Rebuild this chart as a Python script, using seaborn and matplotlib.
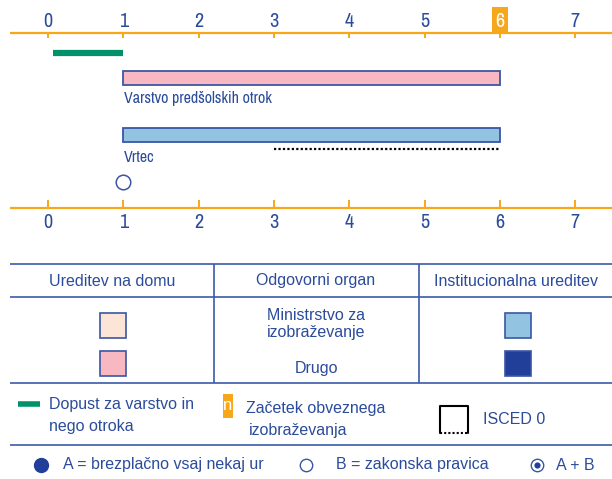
import matplotlib
matplotlib.use('Agg')
import matplotlib.pyplot as plt
import seaborn as sns
from matplotlib.patches import Rectangle

# --- data ---
ages = [0, 1, 2, 3, 4, 5, 6, 7]
compulsory_age = 6
leave_start, leave_end = 0.06, 1.0
row_labels = ['Varstvo predšolskih otrok', 'Vrtec']
row_start = [1, 1]
row_end = [6, 6]
isced_start, isced_end = 3, 6
entitlement_age = [1]

header_labels = ['Ureditev na domu', 'Odgovorni organ', 'Institucionalna ureditev']
organ_labels = ['Ministrstvo za\nizobraževanje', 'Drugo']
legend_items = ['A = brezplačno vsaj nekaj ur', 'B = zakonska pravica', 'A + B']

# --- colours ---
ORANGE = '#F7A71C'
TEXT = '#2B4B9B'
EDGE = '#3A56A5'
LINE = '#3B5BA9'
GREEN = '#00916A'
PINK = '#F7B8C1'
PEACH = '#FCE4D6'
LBLUE = '#92C3E1'
DBLUE = '#213F99'

sns.set_theme(style='white')
plt.rcParams['font.family'] = ['Liberation Sans', 'DejaVu Sans']
NARROW = ['Archivo Narrow', 'Liberation Sans', 'DejaVu Sans']

FS = 11.5

fig = plt.figure(figsize=(6.12, 4.79), dpi=100)

# axes in age units (x) and pixel rows (y)
px0, pxs = 48.0, 75.3
ax = fig.add_axes([0, 0, 1, 1])
ax.set_xlim(-px0 / pxs, (612 - px0) / pxs)
ax.set_ylim(479, 0)
ax.axis('off')

# overlay axes in pixel units for the table and legend
pt = fig.add_axes([0, 0, 1, 1])
pt.set_xlim(0, 612)
pt.set_ylim(479, 0)
pt.axis('off')
pt.patch.set_alpha(0)

x_left = (10 - px0) / pxs
x_right = ax.get_xlim()[1]


def draw_age_axis(y, tick_len, label_y, highlight=None):
    ax.plot([x_left, x_right], [y, y], color=ORANGE, lw=1.6, solid_capstyle='butt')
    for a in ages:
        ax.plot([a, a], [y, y + tick_len], color=ORANGE, lw=1.4, solid_capstyle='butt')
        col = TEXT
        if highlight is not None and a == highlight:
            ax.add_patch(Rectangle((a - 0.105, 7), 0.21, y - 7, color=ORANGE, lw=0))
            col = 'white'
        ax.text(a, label_y, str(a), ha='center', va='center', fontsize=14.5,
                color=col, family=NARROW)


draw_age_axis(33, 5, 21, highlight=compulsory_age)
draw_age_axis(208, -8, 222)

# parental leave
ax.plot([leave_start, leave_end], [53, 53], color=GREEN, lw=4.5, solid_capstyle='butt')

# provision bars
row_y = [78, 135]
row_fill = [PINK, LBLUE]
label_y = [98, 158]
for yy, s, e, c, lab, ly in zip(row_y, row_start, row_end, row_fill, row_labels, label_y):
    ax.barh(yy, e - s, left=s, height=14, color=c, edgecolor=EDGE, linewidth=1.3)
    ax.text(s + 0.01, ly, lab, ha='left', va='center', fontsize=FS, color=TEXT, family=NARROW)

# ISCED 0
ax.plot([isced_start, isced_end], [149, 149], color='black', lw=1.6, linestyle=(0, (1, 1)))

# entitlement marker
sns.scatterplot(x=entitlement_age, y=[182], ax=ax, marker='o', s=110,
                facecolor='white', edgecolor=EDGE, linewidth=1.1, legend=False, zorder=5)

# --- table ---
pt.hlines([264, 297, 383, 445], 10, 612, color=LINE, lw=1.2)
pt.vlines([214, 419], 264, 383, color=LINE, lw=1.2)
for cx, lab in zip([112, 316, 516], header_labels):
    pt.text(cx, 281, lab, ha='center', va='center', fontsize=FS, color=TEXT)

pt.text(316, 324, organ_labels[0], ha='center', va='center', fontsize=FS,
        color=TEXT, linespacing=1.15)
pt.text(316, 368, organ_labels[1], ha='center', va='center', fontsize=FS, color=TEXT)

for (x, y), c in zip([(99.5, 313), (99.5, 351), (504.5, 313), (504.5, 351)],
                     [PEACH, PINK, LBLUE, DBLUE]):
    pt.add_patch(Rectangle((x, y), 26, 25, facecolor=c, edgecolor=EDGE, lw=1.2))

# --- legend row ---
pt.plot([18, 40], [404, 404], color=GREEN, lw=4, solid_capstyle='butt')
pt.text(49, 405, 'Dopust za varstvo in', ha='left', va='center', fontsize=FS, color=TEXT)
pt.text(49, 426, 'nego otroka', ha='left', va='center', fontsize=FS, color=TEXT)

pt.add_patch(Rectangle((222.7, 394), 10.5, 24, color=ORANGE, lw=0))
pt.text(228, 406, 'n', ha='center', va='center', fontsize=12, color='white')
pt.text(246.5, 408, 'Začetek obveznega', ha='left', va='center', fontsize=FS, color=TEXT)
pt.text(249, 430, 'izobraževanja', ha='left', va='center', fontsize=FS, color=TEXT)

pt.plot([440, 440, 468, 468], [433, 406, 406, 433], color='black', lw=1.5)
pt.plot([440, 468], [433, 433], color='black', lw=1.5, linestyle=(0, (1, 1)))
pt.text(482.6, 420, 'ISCED 0', ha='left', va='center', fontsize=FS, color=TEXT)

# bottom key
pt.scatter([40.7], [465], s=100, color=DBLUE, zorder=5)
pt.text(62.7, 465, legend_items[0], ha='left', va='center', fontsize=FS, color=TEXT)
pt.scatter([306], [465], s=80, facecolor='white', edgecolor=EDGE, lw=1.0, zorder=5)
pt.text(336, 465, legend_items[1], ha='left', va='center', fontsize=FS, color=TEXT)
pt.scatter([536.5], [465], s=80, facecolor='white', edgecolor=EDGE, lw=1.0, zorder=5)
pt.scatter([536.5], [465], s=12, color=DBLUE, zorder=6)
pt.text(556, 465, legend_items[2], ha='left', va='center', fontsize=FS, color=TEXT)

fig.savefig('out.png', dpi=100)
